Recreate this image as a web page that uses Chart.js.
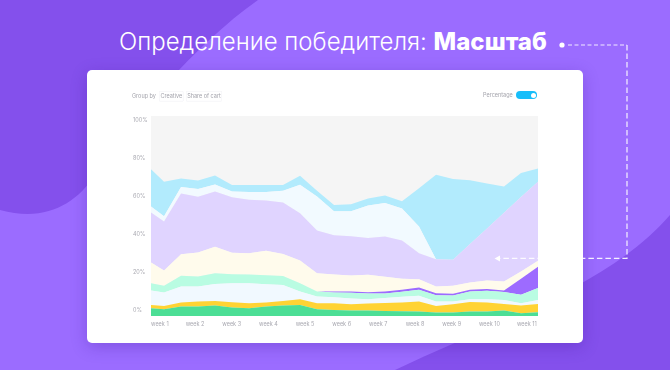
<!DOCTYPE html>
<html><head><meta charset="utf-8">
<script src="https://cdn.jsdelivr.net/npm/chart.js@4.4.0/dist/chart.umd.min.js"></script>
<style>
html,body{margin:0;padding:0;width:670px;height:370px;overflow:hidden;}
body{position:relative;background:#9B6CFF;font-family:Inter,"Noto Sans",sans-serif;}
svg{position:absolute;left:0;top:0;}
#title{position:absolute;left:119px;top:30px;font-size:24px;line-height:24px;color:#fff;white-space:nowrap;font-weight:300;}
#title b{font-weight:800;}
#card{position:absolute;left:87px;top:70px;width:496px;height:273px;background:#fff;border-radius:5px;box-shadow:0 4px 16px rgba(60,20,150,.28);}
#chart{position:absolute;left:0;top:0;}
.sm{position:absolute;font-size:11px;line-height:13px;color:#a3a3ab;white-space:nowrap;transform:scale(.5);transform-origin:0 0;}
.box{position:absolute;font-size:11px;color:#a3a3ab;white-space:nowrap;transform:scale(.5);transform-origin:0 0;border:1px solid #ececf0;border-radius:2px;box-sizing:border-box;text-align:center;}
#tog{position:absolute;left:515.7px;top:91.3px;width:21.6px;height:8px;border-radius:4px;background:#17BEFA;}
#knob{position:absolute;left:530.8px;top:92.8px;width:5px;height:5px;border-radius:50%;background:#fff;}
</style></head>
<body>
<svg width="670" height="370">
  <rect width="670" height="370" fill="#9B6CFF"/>
  <path d="M0 0 H258 C200 40,130 120,95 175 C75 205,45 222,0 210 Z" fill="#8450EC"/>
  <path d="M670 215 C610 285,500 320,395 370 H670 Z" fill="#8450EC"/>
</svg>
<div id="title">Определение победителя: <b>Масштаб</b></div>
<div id="card"><canvas id="chart" width="496" height="273"></canvas></div>
<div class="sm" style="left:132.3px;top:92.5px">Group by</div>
<div class="box" style="left:159px;top:90.7px;width:49.4px;height:20.6px;line-height:18.6px">Creative</div>
<div class="box" style="left:186.3px;top:90.7px;width:72px;height:20.6px;line-height:18.6px">Share of cart</div>
<div class="sm" style="left:482.7px;top:91.8px">Percentage</div>
<div id="tog"></div><div id="knob"></div>
<svg width="670" height="370" style="pointer-events:none">
  <circle cx="562" cy="45" r="2.6" fill="#fff"/>
  <path d="M568 45 H627" stroke="#fff" stroke-opacity=".85" stroke-width="1.2" stroke-dasharray="4 2.5" fill="none"/>
  <path d="M627 45 V258.4 H499" stroke="#fff" stroke-opacity=".9" stroke-width="1.2" stroke-dasharray="5.5 3" fill="none"/>
  <path d="M494.5 258.4 L500 255.4 L500 261.4 Z" fill="#fff"/>
</svg>
<script>
// x positions of samples (the first sample sits on the left plot edge)
const xPoints = [0.233,1,2,3,4,5,6,7,8,9,10,11,12,13,14,15,16,17,18,19,20,21,22,23];
const weekLabels = ['week 1','week 2','week 3','week 4','week 5','week 6','week 7','week 8','week 9','week 10','week 11'];
const weekPos = [0.233,2.274,4.427,6.586,8.745,10.898,13.057,15.215,17.368,19.527,21.762];
const yTickValues = [0,20,40,60,80,100];

// stacked series, bottom to top (percent)
const green     = [3.9,3.4,4.7,4.7,5.2,4.2,3.9,4.7,5.2,5.5,3.4,3.0,2.7,2.7,2.5,2.4,2.2,1.7,1.7,2.2,2.2,2.7,1.4,1.9];
const yellow    = [1.6,1.6,2.0,2.5,2.3,2.7,2.5,2.0,2.3,2.9,3.0,3.4,3.2,3.6,4.0,4.4,5.0,3.3,4.2,4.8,4.5,3.3,3.8,4.1];
const iceBlue   = [7.2,6.7,8.0,7.5,8.5,9.5,10.0,9.2,8.0,3.8,3.3,3.0,2.9,2.1,2.5,2.8,2.9,2.2,1.3,1.4,1.7,2.0,1.2,2.0];
const mint      = [3.7,3.4,5.4,5.0,5.4,4.5,4.3,4.5,4.5,4.2,2.5,2.3,2.8,2.8,2.3,2.5,3.0,3.2,3.0,3.8,4.2,4.0,4.2,6.0];
const violet    = [0,0,0,0,0,0,0,0,0,0,0,0.6,0.7,0.7,1.0,1.0,1.1,1.0,0.9,0.9,0.9,0.8,8.0,10.6];
const cream     = [10.3,7.7,10.8,12.0,13.2,10.7,10.7,12.2,11.0,11.3,9.2,8.5,7.9,8.7,7.3,5.5,4.2,3.3,4.0,3.7,4.3,4.4,3.7,3.0];
const lavender  = [25.0,24.4,30.3,27.9,27.7,27.8,26.7,25.2,25.7,23.7,21.3,19.6,19.7,18.4,20.2,19.2,13.0,13.7,13.0,19.2,26.0,34.4,37.2,39.5];
const frost     = [3.0,2.7,3.3,3.9,3.4,2.9,3.9,4.2,5.9,14.2,17.0,12.0,12.5,16.3,16.7,15.9,13.3,0,0,0,0,0,0,0];
const sky       = [18.7,17.2,4.3,4.2,4.5,3.2,3.5,3.5,2.9,4.5,2.9,3.1,3.5,3.4,3.8,3.7,19.2,42.2,40.4,31.9,22.5,13.2,12.0,6.7];

const series = [
  ['green', green, '#4CDE95'],
  ['yellow', yellow, '#FFD334'],
  ['iceBlue', iceBlue, '#F1F9FF'],
  ['mint', mint, '#B9FCE2'],
  ['violet', violet, '#9D6BFF'],
  ['cream', cream, '#FFFBEC'],
  ['lavender', lavender, '#E0D4FF'],
  ['frost', frost, '#F2FAFF'],
  ['sky', sky, '#B2EBFD']
];

const datasets = series.map(([name, vals, color], i) => ({
  label: name,
  data: vals.map((v, k) => ({x: xPoints[k], y: v})),
  backgroundColor: color,
  borderColor: 'rgba(0,0,0,0)',
  borderWidth: 0,
  pointRadius: 0,
  tension: 0,
  fill: i === 0 ? 'origin' : '-1',
  yAxisID: 'y'
}));

const plotBg = {
  id: 'plotBg',
  beforeDraw(chart) {
    const {ctx, chartArea: a} = chart;
    ctx.save();
    ctx.fillStyle = '#F5F5F5';
    ctx.fillRect(a.left, a.top, a.right - a.left, a.bottom - a.top);
    ctx.restore();
  }
};

const tickFont = {family: 'Inter, "Noto Sans", sans-serif', size: 5.5};

new Chart(document.getElementById('chart'), {
  type: 'line',
  data: {datasets},
  plugins: [plotBg],
  options: {
    responsive: false,
    animation: false,
    devicePixelRatio: 1,
    layout: {padding: {left: 46, top: 46, right: 45, bottom: 7}},
    plugins: {legend: {display: false}, tooltip: {enabled: false}},
    scales: {
      x: {
        type: 'linear', min: 0.233, max: 23,
        grid: {display: false, drawTicks: false}, border: {display: false},
        afterBuildTicks: s => { s.ticks = weekPos.map(v => ({value: v})); },
        afterFit: s => { s.height = 20; },
        ticks: {
          align: 'start', autoSkip: false, maxRotation: 0, minRotation: 0,
          padding: 5.5, color: '#a9a9b1', font: tickFont,
          callback: (v, i) => weekLabels[i]
        }
      },
      y: {stacked: true, min: 0, max: 100, display: false},
      yLabels: {
        position: 'left', min: -2.79, max: 102.47,
        grid: {display: false, drawTicks: false}, border: {display: false},
        afterBuildTicks: s => { s.ticks = yTickValues.map(v => ({value: v})); },
        afterFit: s => { s.width = 18; },
        ticks: {crossAlign: 'far', color: '#a9a9b1', font: tickFont, callback: v => v + '%'}
      }
    }
  }
});
</script>
</body></html>
